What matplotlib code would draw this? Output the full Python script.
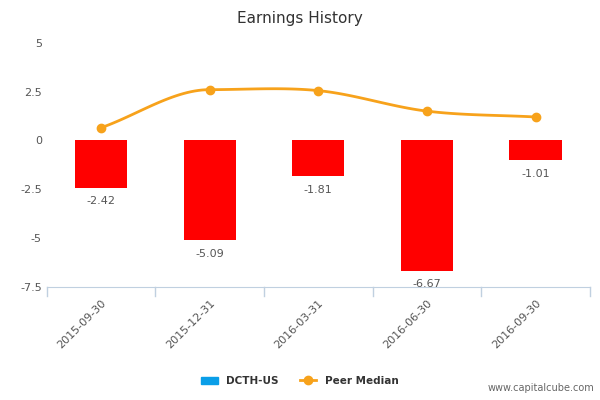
import numpy as np
import matplotlib
matplotlib.use('Agg')
import matplotlib.pyplot as plt

dates = ['2015-09-30', '2015-12-31', '2016-03-31', '2016-06-30', '2016-09-30']
eps = [-2.42, -5.09, -1.81, -6.67, -1.01]
peer = [0.65, 2.6, 2.55, 1.5, 1.2]

fig = plt.figure(figsize=(6, 4), dpi=100)
ax = fig.add_axes([0.078, 0.283, 0.905, 0.61])
x = np.arange(len(dates))

ax.bar(x, eps, width=0.48, color='#ff0000', zorder=2)
for xi, v in zip(x, eps):
    ax.text(xi, v - 0.45, f'{v:.2f}', ha='center', va='top', fontsize=8, color='#555555')

# smooth line via monotone cubic hermite
xs, ys = [], []
p = np.array(peer)
d = np.gradient(p)
for i in range(len(p) - 1):
    if (p[i+1] - p[i]) * d[i] <= 0: d[i] = 0
for i in [0, len(p) - 1]:
    pass
t = np.linspace(0, 1, 30)
for i in range(len(p) - 1):
    h00 = 2*t**3 - 3*t**2 + 1; h10 = t**3 - 2*t**2 + t
    h01 = -2*t**3 + 3*t**2; h11 = t**3 - t**2
    xs.extend(i + t)
    ys.extend(h00*p[i] + h10*d[i] + h01*p[i+1] + h11*d[i+1])
ax.plot(xs, ys, color='#f7a21b', lw=2, zorder=3)
ax.plot(x, peer, 'o', color='#f7a21b', ms=6, zorder=4)

ax.set_xlim(-0.5, 4.5)
ax.set_ylim(-7.5, 5)
ax.set_yticks([5, 2.5, 0, -2.5, -5, -7.5])
ax.set_yticklabels(['5', '2.5', '0', '-2.5', '-5', '-7.5'])
ax.set_xticks(x)
ax.set_xticklabels(dates, rotation=45, ha='right', rotation_mode='anchor')
ax.tick_params(axis='y', length=0, labelsize=8, colors='#555555')
ax.tick_params(axis='x', length=0, labelsize=8, colors='#555555', pad=8)
for s in ['top', 'right', 'left']:
    ax.spines[s].set_visible(False)
ax.spines['bottom'].set_color('#c0d0e0')
for b in np.arange(-0.5, 4.6, 1):
    ax.plot([b, b], [-7.5, -7.95], color='#c0d0e0', lw=1, clip_on=False)

fig.text(0.5, 0.955, 'Earnings History', ha='center', va='center', fontsize=11, color='#333333')

from matplotlib.patches import Patch
from matplotlib.lines import Line2D
handles = [Patch(color='#0a9ee8', label='DCTH-US'),
           Line2D([0], [0], color='#f7a21b', marker='o', lw=2, label='Peer Median')]
fig.legend(handles=handles, loc='center', bbox_to_anchor=(0.5, 0.048), ncol=2,
           frameon=False, prop={'size': 7.5, 'weight': 'bold'}, handlelength=1.6,
           labelcolor='#333333')
fig.text(0.99, 0.018, 'www.capitalcube.com', ha='right', va='bottom', fontsize=7, color='#666666')

fig.savefig('out.png')
